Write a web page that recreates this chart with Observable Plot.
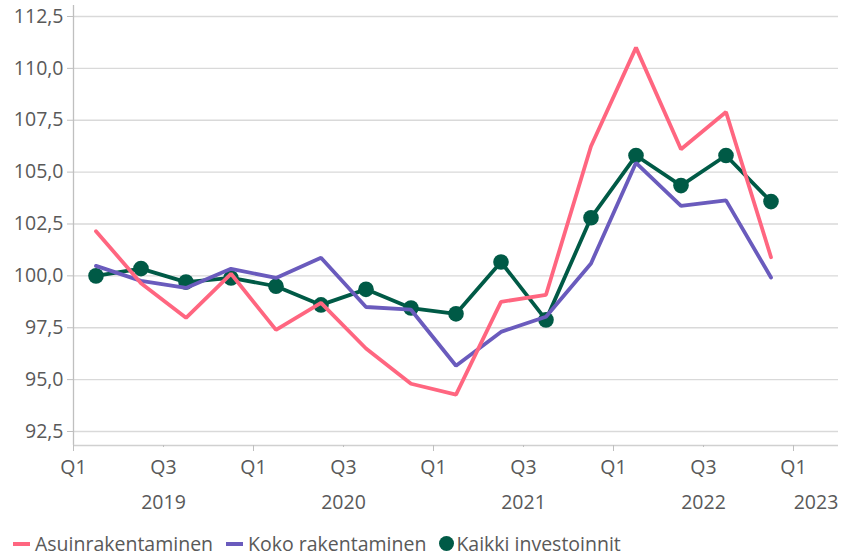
<!DOCTYPE html>
<html>
<head>
<meta charset="utf-8">
<script src="https://cdn.jsdelivr.net/npm/d3@7"></script>
<script src="https://cdn.jsdelivr.net/npm/@observablehq/plot@0.6"></script>
<style>
  html, body { margin: 0; padding: 0; background: #fff; }
  #wrap { position: relative; width: 845px; height: 557px; font-family: "Open Sans", sans-serif; color: #595959; }
  #legend { position: absolute; left: 13px; top: 530px; display: flex; align-items: center; font-size: 19.5px; white-space: nowrap; }
  .item { display: flex; align-items: center; margin-right: 13px; }
  .dash { width: 17px; height: 4px; margin-right: 5px; }
  .dot { width: 15px; height: 15px; border-radius: 50%; margin-right: 2px; }
</style>
</head>
<body>
<div id="wrap"><div id="chart"></div><div id="legend"></div></div>
<script>
// Quarters 2019 Q1 .. 2022 Q4
const quarters = ["2019Q1","2019Q2","2019Q3","2019Q4","2020Q1","2020Q2","2020Q3","2020Q4",
                  "2021Q1","2021Q2","2021Q3","2021Q4","2022Q1","2022Q2","2022Q3","2022Q4"];
const asuinrakentaminen = [102.15, 99.65, 97.98, 100.1, 97.4, 98.7, 96.5, 94.8, 94.28, 98.75, 99.09, 106.25, 111.0, 106.1, 107.9, 100.9];
const kokoRakentaminen  = [100.48, 99.76, 99.42, 100.34, 99.9, 100.87, 98.5, 98.37, 95.67, 97.3, 98.03, 100.6, 105.45, 103.37, 103.64, 99.92];
const kaikkiInvestoinnit = [100.0, 100.35, 99.7, 99.9, 99.5, 98.6, 99.35, 98.45, 98.17, 100.67, 97.88, 102.8, 105.8, 104.35, 105.8, 103.58];
const yTicks = [92.5, 95, 97.5, 100, 102.5, 105, 107.5, 110, 112.5];
const qTickLabels = ["Q1", "Q3"];
const yearLabels = ["2019", "2020", "2021", "2022", "2023"];
const seriesNames = ["Asuinrakentaminen", "Koko rakentaminen", "Kaikki investoinnit"];
const colors = ["#ff6680", "#6a5bbd", "#005a46"];

const toRows = (vals, name) => vals.map((v, i) => ({x: i + 0.5, y: v, name}));
const rowsA = toRows(asuinrakentaminen, seriesNames[0]);
const rowsK = toRows(kokoRakentaminen, seriesNames[1]);
const rowsI = toRows(kaikkiInvestoinnit, seriesNames[2]);

const yMin = 91.825, yMax = 113.03;
const majorTicks = [0, 4, 8, 12, 16];
const minorTicks = [2, 6, 10, 14];
const yearPos = [2, 6, 10, 14, 16.5];
const fmt = d => d.toFixed(1).replace(".", ",");
const grey = "#595959";

const chart = Plot.plot({
  width: 845,
  height: 525,
  marginLeft: 73,
  marginRight: 7,
  marginTop: 5,
  marginBottom: 80,
  style: {fontFamily: "Open Sans, sans-serif", fontSize: "19.5px", color: grey, background: "#fff"},
  x: {type: "linear", domain: [0, 17]},
  y: {domain: [yMin, yMax]},
  marks: [
    Plot.gridY(yTicks, {stroke: "#d9d9d9", strokeOpacity: 1, strokeWidth: 1.3}),
    Plot.ruleX([0], {stroke: "#bfbfbf", strokeWidth: 1.3}),
    Plot.ruleY([yMin], {stroke: "#d0d0d0", strokeWidth: 1.3}),
    Plot.axisY(yTicks, {tickFormat: fmt, tickSize: 6, tickPadding: 4, stroke: "#bfbfbf", label: null, fill: grey}),
    Plot.axisX(majorTicks, {tickFormat: () => qTickLabels[0], tickSize: 6, tickPadding: 9, stroke: "#bfbfbf", label: null, fill: grey}),
    Plot.axisX(minorTicks, {tickFormat: () => qTickLabels[1], tickSize: 2, tickPadding: 13, stroke: "#bfbfbf", label: null, fill: grey}),
    Plot.axisX(yearPos, {tickFormat: (d, i) => yearLabels[i], tickSize: 0, tickPadding: 50, label: null, fill: grey}),
    Plot.line(rowsI, {x: "x", y: "y", stroke: colors[2], strokeWidth: 3.8, strokeLinejoin: "round"}),
    Plot.dot(rowsI, {x: "x", y: "y", r: 7.8, fill: colors[2], stroke: "none"}),
    Plot.line(rowsK, {x: "x", y: "y", stroke: colors[1], strokeWidth: 3.8, strokeLinejoin: "miter"}),
    Plot.line(rowsA, {x: "x", y: "y", stroke: colors[0], strokeWidth: 3.8, strokeLinejoin: "miter"})
  ]
});
document.getElementById("chart").appendChild(chart);

const legend = document.getElementById("legend");
seriesNames.forEach((name, i) => {
  const item = document.createElement("div");
  item.className = "item";
  const sw = document.createElement("div");
  sw.className = i === 2 ? "dot" : "dash";
  sw.style.background = colors[i];
  const t = document.createElement("span");
  t.textContent = name;
  item.appendChild(sw);
  item.appendChild(t);
  legend.appendChild(item);
});
</script>
</body>
</html>
